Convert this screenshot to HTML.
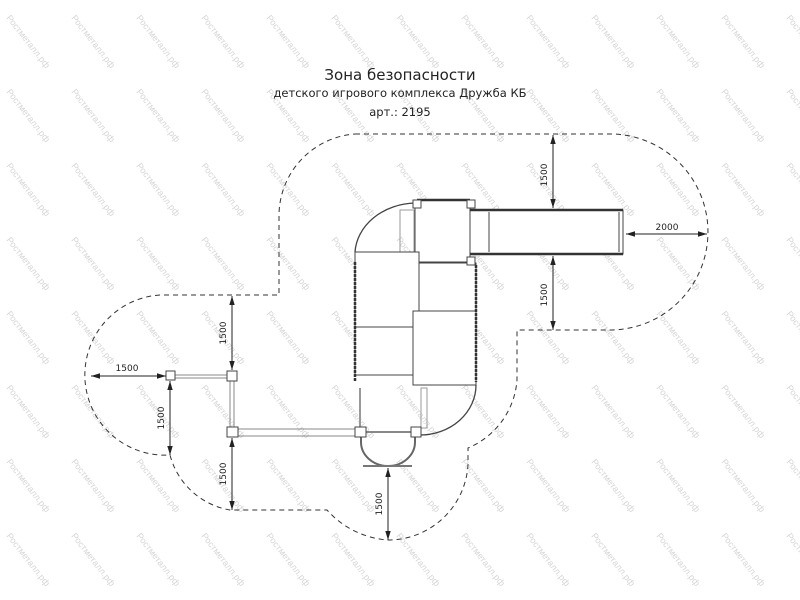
<!DOCTYPE html>
<html><head><meta charset="utf-8"><style>
html,body{margin:0;padding:0;background:#fff;}
svg{display:block;font-family:"Liberation Sans","DejaVu Sans",sans-serif;}
</style></head><body>
<svg width="800" height="600" viewBox="0 0 800 600" xmlns="http://www.w3.org/2000/svg">
<defs>
<pattern id="wm" x="0" y="0" width="65" height="74" patternUnits="userSpaceOnUse">
<text x="0" y="0" font-size="9" fill="#d6d6d6" transform="translate(6,18) rotate(52)">Ростметалл.рф</text>
</pattern>
<marker id="ar" viewBox="0 0 10 10" refX="10" refY="5" markerWidth="9" markerHeight="9" orient="auto-start-reverse" markerUnits="userSpaceOnUse"><path d="M0,2 L10,5 L0,8 z" fill="#222"/></marker>
</defs>
<rect width="800" height="600" fill="url(#wm)"/>

<g font-family="DejaVu Sans, Liberation Sans, sans-serif" fill="#222" text-anchor="middle">
<text x="400" y="80" font-size="15">Зона безопасности</text>
<text x="400" y="97" font-size="11.5">детского игрового комплекса Дружба КБ</text>
<text x="400" y="116" font-size="11.5">арт.: 2195</text>
</g>

<!-- safety zone -->
<path d="M355,134 L610,134 A98,98 0 0 1 610,330 L517,330 L517,380 A80,80 0 0 1 468,448 L468,465 A80,80 0 0 1 388,540 A90,90 0 0 1 327,510 L230,510 A75,75 0 0 1 170,455 A80,80 0 0 1 160,295 L279,295 L279,215 A82,82 0 0 1 355,134 Z" fill="none" stroke="#333" stroke-width="1" stroke-dasharray="5,4"/>

<!-- structure -->
<g fill="none" stroke="#444" stroke-width="1">
<path d="M355,252 A62,52 0 0 1 415,203" stroke-width="1.3"/>
<path d="M476,385 A56,50 0 0 1 420,435" stroke-width="1.3"/>
<rect x="415" y="200" width="55" height="62" fill="#fff"/>
<line x1="417" y1="200" x2="470" y2="200" stroke-width="2.5" stroke="#333"/>
<rect x="400" y="210" width="14" height="42" stroke="#999"/>
<rect x="470" y="210" width="153" height="44" fill="#fff"/>
<line x1="470" y1="210" x2="623" y2="210" stroke-width="2.5" stroke="#333"/>
<line x1="470" y1="254" x2="623" y2="254" stroke-width="2.5" stroke="#333"/>
<line x1="489" y1="212" x2="489" y2="252"/>
<line x1="619" y1="212" x2="619" y2="252"/>
<rect x="355" y="252" width="64" height="75" fill="#fff"/>
<rect x="355" y="327" width="58" height="48" fill="#fff"/>
<rect x="419" y="263" width="57" height="48" fill="#fff"/>
<rect x="413" y="311" width="63" height="74" fill="#fff"/>
<line x1="355" y1="262" x2="355" y2="382" stroke="#333" stroke-width="2.5" stroke-dasharray="3,1"/>
<line x1="476" y1="265" x2="476" y2="382" stroke="#333" stroke-width="2.5" stroke-dasharray="3,1"/>
<rect x="413" y="200" width="8" height="8" fill="#fff"/>
<rect x="467" y="200" width="8" height="8" fill="#fff"/>
<rect x="467" y="257" width="8" height="8" fill="#fff"/>
<rect x="421" y="388" width="6" height="40" stroke="#999"/>
<!-- lower arch -->
<path d="M361,436 L361,442 A27,24 0 0 0 415,442 L415,436" stroke="#666" stroke-width="2"/>
<line x1="363" y1="466" x2="412" y2="466" stroke-width="2" stroke="#777"/>
<line x1="360" y1="388" x2="360" y2="428" stroke="#999" stroke-width="2"/>
<!-- left bars -->
<line x1="236" y1="429" x2="356" y2="429" stroke="#888"/>
<line x1="236" y1="436" x2="356" y2="436" stroke="#888"/>
<line x1="364" y1="432" x2="412" y2="432" stroke="#888" stroke-width="2"/>
<line x1="175" y1="375" x2="228" y2="375" stroke="#888"/>
<line x1="175" y1="378" x2="228" y2="378" stroke="#888"/>
<line x1="230" y1="381" x2="230" y2="427" stroke="#888"/>
<line x1="234" y1="381" x2="234" y2="427" stroke="#888"/>
<rect x="227" y="427" width="11" height="10" fill="#fff"/>
<rect x="355" y="427" width="11" height="10" fill="#fff"/>
<rect x="411" y="427" width="10" height="10" fill="#fff"/>
<rect x="227" y="371" width="10" height="10" fill="#fff"/>
<rect x="166" y="371" width="9" height="9" fill="#fff"/>
</g>

<!-- dimensions -->
<g stroke="#222" stroke-width="1" marker-start="url(#ar)" marker-end="url(#ar)">
<line x1="91" y1="376" x2="166" y2="376"/>
<line x1="170" y1="381" x2="170" y2="455"/>
<line x1="232" y1="296" x2="232" y2="370"/>
<line x1="232" y1="438" x2="232" y2="510"/>
<line x1="388" y1="468" x2="388" y2="540"/>
<line x1="553" y1="135" x2="553" y2="208"/>
<line x1="553" y1="256" x2="553" y2="330"/>
<line x1="626" y1="234" x2="707" y2="234"/>
</g>
<g font-size="9" fill="#222" text-anchor="middle" font-family="DejaVu Sans, Liberation Sans, sans-serif">
<text x="127" y="371">1500</text>
<text x="667" y="230">2000</text>
<text transform="translate(164,418) rotate(-90)">1500</text>
<text transform="translate(226,333) rotate(-90)">1500</text>
<text transform="translate(226,474) rotate(-90)">1500</text>
<text transform="translate(382,504) rotate(-90)">1500</text>
<text transform="translate(547,175) rotate(-90)">1500</text>
<text transform="translate(547,295) rotate(-90)">1500</text>
</g>
</svg>
</body></html>
